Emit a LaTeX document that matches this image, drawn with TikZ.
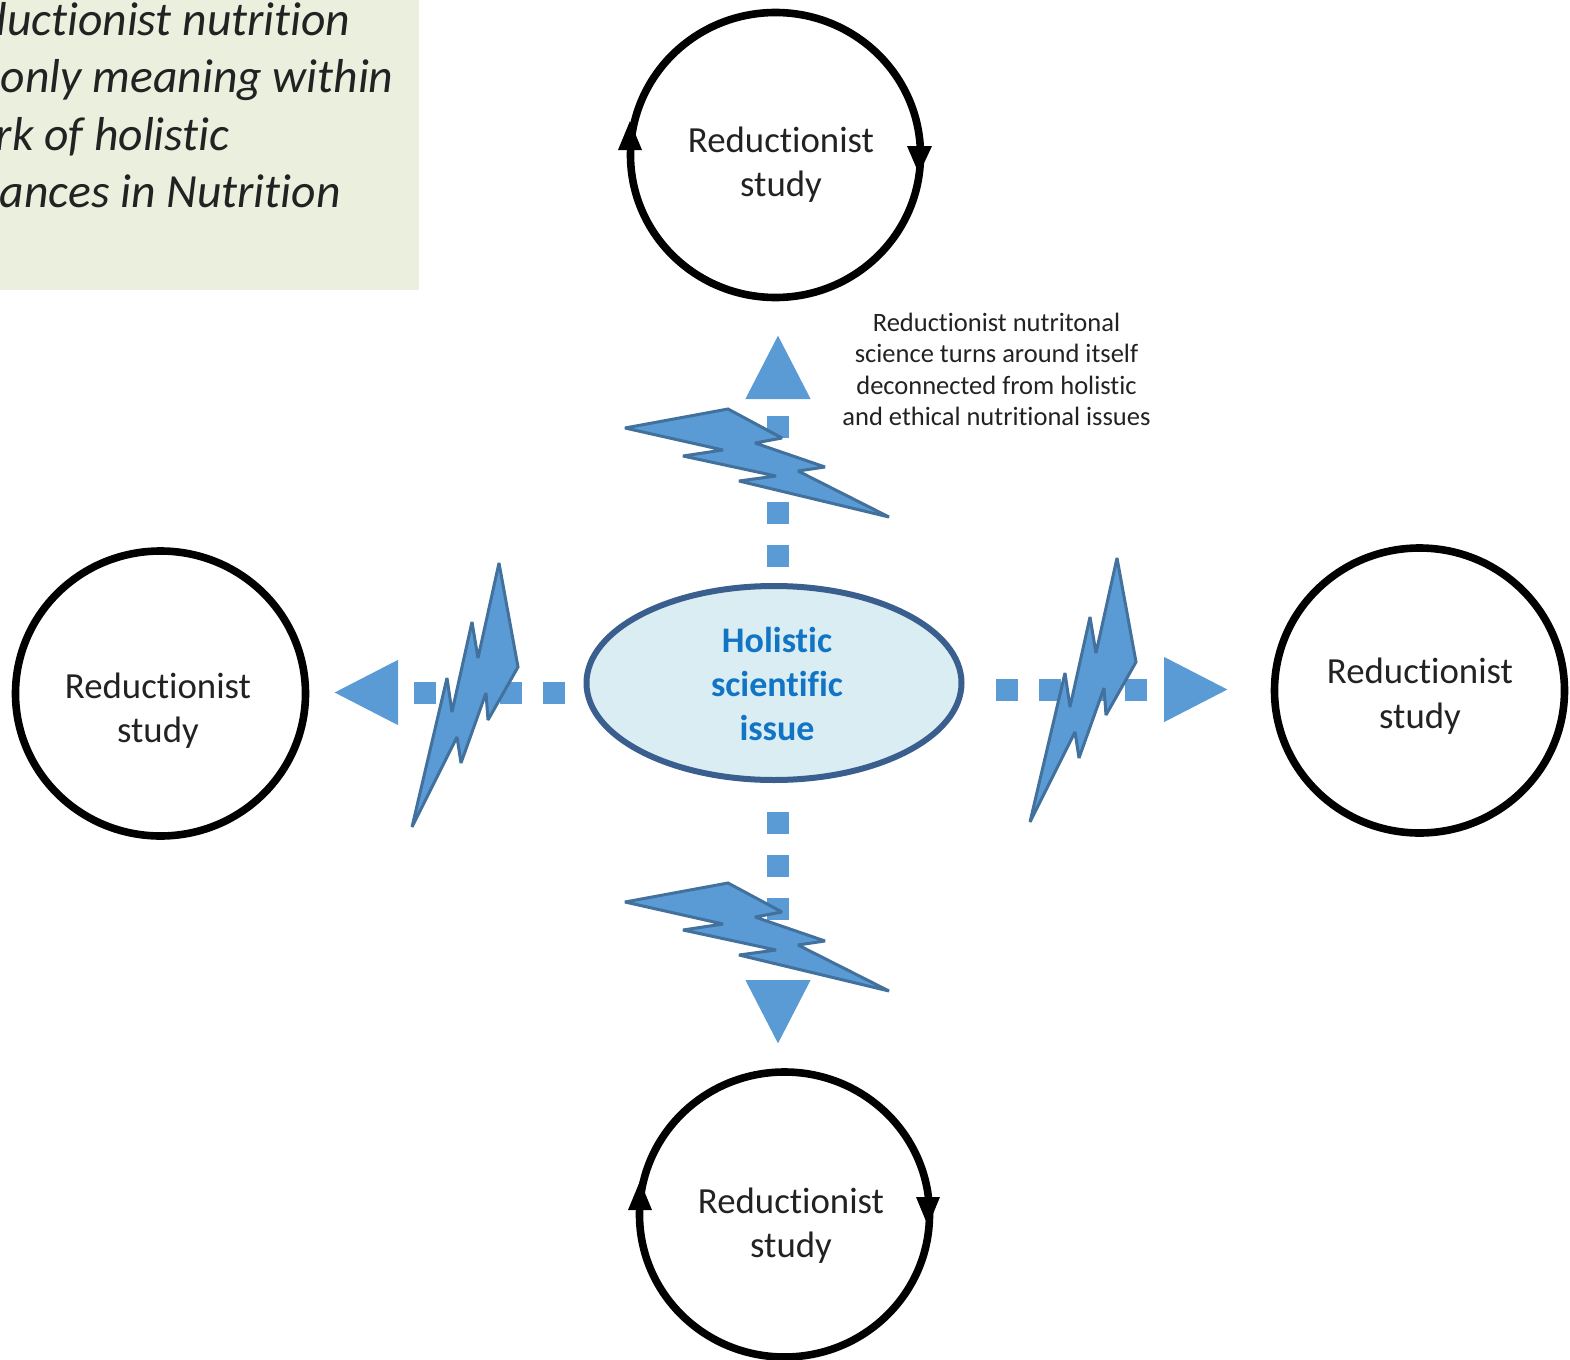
\documentclass[tikz,border=0pt]{standalone}
\usepackage{fontspec}
\setmainfont[Ligatures=NoCommon]{Carlito}
\usetikzlibrary{arrows.meta,shapes.geometric}
\definecolor{boltblue}{HTML}{5B9BD5}
\definecolor{boltedge}{HTML}{41719C}
\definecolor{boxgreen}{HTML}{EBEFDE}
\definecolor{ellfill}{HTML}{DAEDF3}
\definecolor{elledge}{HTML}{3A5F8F}
\definecolor{holtext}{HTML}{1174C4}
\definecolor{ink}{HTML}{222222}
\tikzset{
  study/.style={draw=black,line width=3.8pt,ellipse,minimum width=145pt,minimum height=142.5pt,inner sep=0pt,fill=white},
  studytext/.style={align=center,text=ink,font=\fontsize{18.4}{22.3}\selectfont},
  flow/.style={draw=boltblue,line width=11pt,dash pattern=on 11pt off 10.5pt,
    -{Triangle[length=32.5pt 0 0,width=30pt 0 0,fill=boltblue]}},
  bolt/.style={fill=boltblue,draw=boltedge,line width=1.5pt,miter limit=3},
  loophead/.style={fill=black},
  boxline/.style={anchor=base east,inner sep=0pt,text=ink,font=\fontsize{23.8}{28}\itshape\selectfont}
}
\begin{document}
\begin{tikzpicture}[x=0.5pt,y=-0.5pt]
\useasboundingbox (0,0) rectangle (1570,1360);
\fill[boxgreen] (0,0) rectangle (419,290);
\begin{scope}
\clip (0,0) rectangle (419,290);
\node[boxline] (l1) at (351,35) {ductionist nutrition};
\node[boxline] (l2) at (394,92) {only meaning within};
\node[boxline] (l3) at (230,150) {rk of holistic};
\node[boxline] (l4) at (341,207) {ances in Nutrition};
\end{scope}
% circles
\node[study] (top) at (775.5,155) {};
\node[study] (left) at (160.5,693.5) {};
\node[study] (right) at (1419.5,690.5) {};
\node[study] (bottom) at (784.5,1214.5) {};
\node[studytext] (ttop) at (781,164.5) {Reductionist\\study};
\node[studytext] (tleft) at (158,710.5) {Reductionist\\study};
\node[studytext] (tright) at (1420,696) {Reductionist\\study};
\node[studytext] (tbottom) at (791,1225.5) {Reductionist\\study};
% loop arrowheads
\fill[loophead] (618,150) -- (642,150) -- (630,121) -- cycle;
\fill[loophead] (907,146) -- (932,146) -- (919,174) -- cycle;
\fill[loophead] (628,1210) -- (652,1210) -- (640,1181) -- cycle;
\fill[loophead] (916,1197) -- (940,1197) -- (928,1226) -- cycle;
% connectors
\coordinate (sn) at (778,567); \coordinate (en) at (778,334);
\coordinate (ss) at (778,812); \coordinate (es) at (778,1045);
\coordinate (sw) at (565,692.5); \coordinate (ew) at (333,692.5);
\coordinate (se) at (996,689.5); \coordinate (ee) at (1229,689.5);
\draw[flow] (sn) -- (en);
\draw[flow] (ss) -- (es);
\draw[flow] (sw) -- (ew);
\draw[flow] (se) -- (ee);
% bolts
\foreach \dy in {0,474}{
\draw[bolt,shift={(0,\dy)}] (625,428) -- (728,409) -- (782,438) -- (755,443) -- (825,467) -- (798,471) -- (889,517) -- (739,481) -- (776,476) -- (683,456) -- (723,450) -- cycle;
}
\foreach \dx/\dy in {0/0,618/-5}{
\draw[bolt,shift={(\dx,\dy)}] (499,563) -- (518,667) -- (488,720) -- (486,693) -- (461,763) -- (457,737) -- (412,827) -- (447,678) -- (452,712) -- (472,622) -- (478,658) -- cycle;
}
% centre
\node[ellipse,draw=elledge,fill=ellfill,line width=3pt,minimum width=187.5pt,minimum height=97pt,inner sep=0pt] (holistic) at (774,683) {};
\node[align=center,text=holtext,font=\fontsize{18}{22}\bfseries\selectfont] (holtxt) at (777,683.5) {Holistic\\scientific\\issue};
\node[align=center,text=ink,font=\fontsize{13.25}{15.7}\selectfont] (note) at (996.5,369.5) {Reductionist nutritonal\\science turns around itself\\deconnected from holistic\\and ethical nutritional issues};
\end{tikzpicture}
\end{document}
